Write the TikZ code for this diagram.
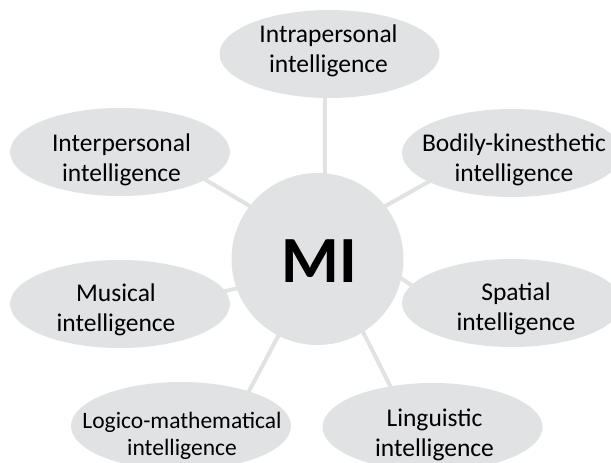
\documentclass[tikz,border=0pt]{standalone}
\usepackage{fontspec}
\setmainfont{Carlito}
\usetikzlibrary{shapes.geometric,backgrounds}
\definecolor{bubble}{RGB}{225,226,228}
\begin{document}
\begin{tikzpicture}[x=1pt,y=-1pt,
  bub/.style={ellipse, fill=bubble, minimum width=220pt, minimum height=88pt, inner sep=0pt, outer sep=0pt},
  hub/.style={circle, fill=bubble, minimum size=172pt, inner sep=0pt, outer sep=0pt},
  lbl/.style={align=center, font=\fontsize{25.5}{30}\selectfont, text=black, inner sep=0pt},
  lblsmall/.style={align=center, font=\fontsize{23.5}{27.5}\selectfont, text=black, inner sep=0pt},
  mitext/.style={font=\bfseries\fontsize{66}{66}\selectfont, text=black, inner sep=0pt},
  conn/.style={draw=bubble, line width=4pt, shorten <=-4pt, shorten >=-4pt}]
\useasboundingbox (0,0) rectangle (611,463);
\clip (0,0) rectangle (611,463);

\node[hub, label={[mitext, xshift=1.5pt, yshift=-2.5pt]center:MI}] (mi) at (317.5,259) {};

\node[bub, label={[lbl, xshift=-1pt, yshift=3.5pt]center:Intrapersonal\\intelligence}] (intra) at (329.5,54) {};
\node[bub, label={[lbl, xshift=1.5pt, yshift=-8pt]center:Interpersonal\\intelligence}] (inter) at (120,152) {};
\node[bub, label={[lbl, xshift=2pt, yshift=-6.5pt]center:Bodily-kinesthetic\\intelligence}] (bodily) at (512,153) {};
\node[bub, label={[lbl, xshift=-4pt, yshift=-6pt]center:Musical\\intelligence}] (musical) at (120,304) {};
\node[bub, label={[lbl, xshift=4pt, yshift=-5.5pt]center:Spatial\\intelligence}] (spatial) at (512,303) {};
\node[bub, label={[lblsmall, xshift=1pt, yshift=-10pt]center:Logico-mathematical\\intelligence}] (logico) at (181,426) {};
\node[bub, label={[lbl, xshift=2pt, yshift=-8pt]center:Linguistic\\intelligence}] (ling) at (432.5,427) {};

\begin{scope}[on background layer]
\draw[conn] (mi.85) -- (intra.264);
\draw[conn] (mi.142) -- (inter.-18);
\draw[conn] (mi.38) -- (bodily.199);
\draw[conn] (mi.200) -- (musical.7);
\draw[conn] (mi.-13.5) -- (spatial.170);
\draw[conn] (mi.243) -- (logico.27);
\draw[conn] (mi.-58) -- (ling.136);
\end{scope}
\end{tikzpicture}
\end{document}
